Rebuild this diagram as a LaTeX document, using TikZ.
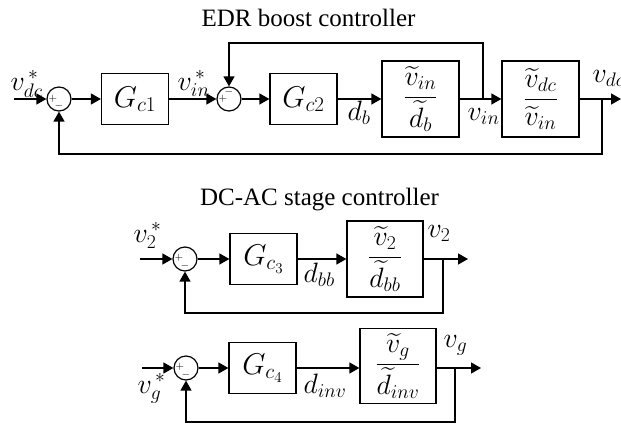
\RequirePackage{fix-cm}
\documentclass[tikz,border=0pt]{standalone}
\usepackage{amsmath}
\usepackage{fontspec}
\newfontfamily\titlefont{Liberation Serif}
\usetikzlibrary{arrows.meta}
\begin{document}
\begin{tikzpicture}[x=1pt,y=-1pt,line width=1.4pt,
  sumj/.style={circle,draw,minimum size=24pt,inner sep=0pt,line width=1.2pt},
  gblk/.style={draw,inner sep=0pt,minimum width=67pt,minimum height=51pt,line width=1.2pt,font=\fontsize{30}{32}\selectfont},
  fblk/.style={draw,inner sep=0pt,minimum width=77pt,minimum height=76pt,line width=1.2pt,font=\fontsize{28}{30}\selectfont},
  lbl/.style={anchor=base west,inner sep=0pt,font=\fontsize{28}{30}\selectfont},
  sgn/.style={inner sep=0pt,font=\fontsize{11}{11}\selectfont},
  ttl/.style={anchor=base,inner sep=0pt,font=\titlefont\fontsize{25}{30}\selectfont},
  arr/.style={-{Triangle[length=10pt,width=11pt]}}]
\useasboundingbox (0,0) rectangle (621,426);

% ---------- EDR boost controller ----------
\node[ttl] (t1title) at (308.5,26) {EDR boost controller};
\coordinate (in1) at (14,99);
\node[sumj] (c1) at (59,99) {};
\node[sgn] (c1p) at ([shift={(-6,0)}]c1.center) {$+$};
\node[sgn] (c1m) at ([shift={(0,7)}]c1.center) {$-$};
\node[gblk] (g1) at (135,99) {$G_{c1}$};
\node[sumj] (c2) at (229,99) {};
\node[sgn] (c2p) at ([shift={(-6,0)}]c2.center) {$+$};
\node[sgn] (c2m) at ([shift={(0,-7)}]c2.center) {$-$};
\node[gblk] (g2) at (303.5,99) {$G_{c2}$};
\node[fblk] (p1) at (420.5,99) {$\dfrac{\widetilde{v}_{in}}{\widetilde{d}_b}$};
\node[fblk] (p2) at (540.5,99) {$\dfrac{\widetilde{v}_{dc}}{\widetilde{v}_{in}}$};
\coordinate (t1) at (483,99);
\coordinate (top1) at (483,43);
\coordinate (t2) at (602,99);
\coordinate (bot1) at (602,154);
\coordinate (out1) at (621,99);

\node[lbl] (lvdcs) at (10,90) {$v_{dc}^{\,*}$};
\node[lbl] (lvins) at (177,90) {$v_{in}^{\,*}$};
\node[lbl] (ldb) at (347,120) {$d_b$};
\node[lbl] (lvin) at (467,120) {$v_{in}$};
\node[lbl] (lvdc) at (592,82) {$v_{dc}$};

\draw[arr] (in1) -- (c1);
\draw[arr] (c1) -- (g1);
\draw[arr] (g1) -- (c2);
\draw[arr] (c2) -- (g2);
\draw[arr] (g2) -- (p1);
\draw[arr] (p1) -- (p2);
\draw[arr] (p2) -- (out1);
\draw[arr] (t1) -- (top1) -| (c2);
\draw[arr] (t2) -- (bot1) -| (c1);

% ---------- DC-AC stage controller ----------
\node[ttl] (t2title) at (319.5,205) {DC-AC stage controller};
\coordinate (in3) at (140,259);
\node[sgn] (c3p) at (179,258) {$+$};
\node[sumj] (c3) at (185,259) {};
\node[sgn] (c3m) at ([shift={(0,7)}]c3.center) {$-$};
\node[gblk] (g3) at (263.5,259) {$G_{c_3}$};
\node[fblk,minimum width=76pt] (p3) at (385,259) {$\dfrac{\widetilde{v}_2}{\widetilde{d}_{bb}}$};
\coordinate (t3) at (443,259);
\coordinate (bot3) at (443,313);
\coordinate (out3) at (468,259);

\node[lbl] (lv2s) at (133,242) {$v_2^{\,*}$};
\node[lbl] (ldbb) at (303,282) {$d_{bb}$};
\node[lbl] (lv2) at (427,237) {$v_2$};

\draw[arr] (in3) -- (c3);
\draw[arr] (c3) -- (g3);
\draw[arr] (g3) -- (p3);
\draw[arr] (p3) -- (out3);
\draw[arr] (t3) -- (bot3) -| (c3);

% ---------- third loop ----------
\coordinate (in4) at (142,368);
\node[sumj] (c4) at (186,368) {};
\node[sgn] (c4p) at ([shift={(-6,-1)}]c4.center) {$+$};
\node[sgn] (c4m) at ([shift={(0,7)}]c4.center) {$-$};
\node[gblk] (g4) at (262.5,368) {$G_{c_4}$};
\node[fblk,minimum width=76pt,minimum height=75pt] (p4) at (398,366) {$\dfrac{\widetilde{v}_g}{\widetilde{d}_{inv}}$};
\coordinate (t4) at (455,368);
\coordinate (bot4) at (455,422);
\coordinate (out4) at (481,368);

\node[lbl] (lvgs) at (137,393) {$v_g^{\,*}$};
\node[lbl] (ldinv) at (303,393) {$d_{inv}$};
\node[lbl] (lvg) at (443,347) {$v_g$};

\draw[arr] (in4) -- (c4);
\draw[arr] (c4) -- (g4);
\draw[arr] (g4) -- (g4 -| p4.west);
\draw[arr] (p4.east |- t4) -- (out4);
\draw[arr] (t4) -- (bot4) -| (c4);
\end{tikzpicture}
\end{document}
